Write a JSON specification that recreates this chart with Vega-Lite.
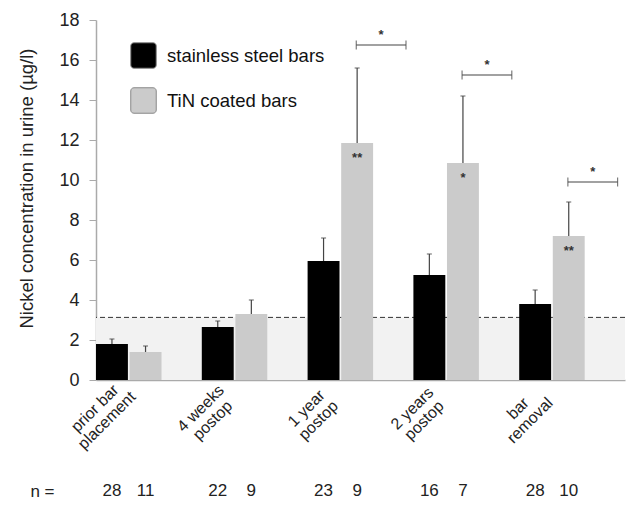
{
  "$schema": "https://vega.github.io/schema/vega-lite/v6.json",
  "padding": {"left": 17, "top": 11, "right": 5, "bottom": 5},
  "background": "white",
  "config": {
    "font": "Liberation Sans",
    "view": {"stroke": null},
    "concat": {"spacing": 29}
  },
  "datasets": {
    "bars": [
      {"group": "prior bar\nplacement", "series": "stainless steel bars", "mean": 1.8, "upper": 2.05, "n": "28"},
      {"group": "prior bar\nplacement", "series": "TiN coated bars", "mean": 1.4, "upper": 1.7, "n": "11"},
      {"group": "4 weeks\npostop", "series": "stainless steel bars", "mean": 2.65, "upper": 2.95, "n": "22"},
      {"group": "4 weeks\npostop", "series": "TiN coated bars", "mean": 3.3, "upper": 4.0, "n": "9"},
      {"group": "1 year\npostop", "series": "stainless steel bars", "mean": 5.95, "upper": 7.1, "n": "23"},
      {"group": "1 year\npostop", "series": "TiN coated bars", "mean": 11.85, "upper": 15.6, "n": "9"},
      {"group": "2 years\npostop", "series": "stainless steel bars", "mean": 5.25, "upper": 6.3, "n": "16"},
      {"group": "2 years\npostop", "series": "TiN coated bars", "mean": 10.85, "upper": 14.2, "n": "7"},
      {"group": "bar\nremoval", "series": "stainless steel bars", "mean": 3.8, "upper": 4.5, "n": "28"},
      {"group": "bar\nremoval", "series": "TiN coated bars", "mean": 7.2, "upper": 8.9, "n": "10"}
    ],
    "inbar": [
      {"group": "1 year\npostop", "series": "TiN coated bars", "mean": 11.85, "mark": "**"},
      {"group": "2 years\npostop", "series": "TiN coated bars", "mean": 10.85, "mark": "*"},
      {"group": "bar\nremoval", "series": "TiN coated bars", "mean": 7.2, "mark": "**"}
    ],
    "brackets": [
      {"group": "1 year\npostop", "level": 16.75, "mark": "*"},
      {"group": "2 years\npostop", "level": 15.25, "mark": "*"},
      {"group": "bar\nremoval", "level": 9.9, "mark": "*"}
    ],
    "limit": [{"threshold": 3.13}]
  },
  "vconcat": [
    {
      "width": 529,
      "height": 360,
      "layer": [
        {
          "data": {"name": "limit"},
          "mark": {"type": "rect", "fill": "#f2f2f2"},
          "encoding": {
            "y": {
              "field": "threshold", "type": "quantitative",
              "scale": {"domain": [0, 18], "nice": false},
              "axis": {
                "title": "Nickel concentration in urine (µg/l)",
                "titleFontSize": 18.5,
                "titleFontWeight": "normal",
                "titleColor": "#222222",
                "titlePadding": 22,
                "titleY": 168,
                "values": [0, 2, 4, 6, 8, 10, 12, 14, 16, 18],
                "tickCount": 12,
                "labelOverlap": false,
                "labelFlush": false,
                "grid": false,
                "labelFontSize": 18,
                "labelColor": "#222222",
                "labelPadding": 10,
                "tickSize": 7,
                "tickColor": "#aaaaaa",
                "domainColor": "#aaaaaa",
                "domainWidth": 1.5
              }
            },
            "y2": {"datum": 0}
          }
        },
        {
          "data": {"name": "limit"},
          "mark": {"type": "rule", "stroke": "#333333", "strokeWidth": 1, "strokeDash": [5, 3]},
          "encoding": {
            "y": {"field": "threshold", "type": "quantitative"}
          }
        },
        {
          "data": {"name": "bars"},
          "mark": {"type": "bar"},
          "encoding": {
            "x": {
              "field": "group", "type": "nominal", "sort": null,
              "scale": {"paddingInner": 0, "paddingOuter": 0},
              "axis": {
                "title": null,
                "labelExpr": "split(datum.label, '\\n')",
                "labelAngle": -45,
                "labelAlign": "center",
                "labelBaseline": "middle",
                "labelFontSize": 16,
                "labelColor": "#222222",
                "labelLineHeight": 17,
                "labelPadding": 28,
                "labelOffset": -54,
                "ticks": false,
                "domainColor": "#aaaaaa",
                "domainWidth": 1.5
              }
            },
            "xOffset": {
              "field": "series", "type": "nominal",
              "sort": ["stainless steel bars", "TiN coated bars"],
              "scale": {"paddingInner": 0.05, "paddingOuter": 0.6, "align": 0}
            },
            "y": {"field": "mean", "type": "quantitative"},
            "color": {
              "field": "series", "type": "nominal",
              "scale": {"domain": ["stainless steel bars", "TiN coated bars"], "range": ["#000000", "#cbcbcb"]},
              "legend": {
                "title": null,
                "orient": "none",
                "legendX": 34,
                "legendY": 22,
                "symbolType": "M -0.75 -1 L 0.75 -1 A 0.25 0.25 0 0 1 1 -0.75 L 1 0.75 A 0.25 0.25 0 0 1 0.75 1 L -0.75 1 A 0.25 0.25 0 0 1 -1 0.75 L -1 -0.75 A 0.25 0.25 0 0 1 -0.75 -1 Z",
                "symbolSize": 650,
                "symbolStrokeColor": "#888888",
                "symbolStrokeWidth": 1,
                "symbolOpacity": 1,
                "labelFontSize": 18.5,
                "labelColor": "#111111",
                "labelOffset": 10,
                "rowPadding": 14,
                "labelLimit": 300
              }
            }
          }
        },
        {
          "data": {"name": "bars"},
          "mark": {"type": "rule", "stroke": "#444444", "strokeWidth": 1.2},
          "encoding": {
            "x": {"field": "group", "type": "nominal", "sort": null},
            "xOffset": {"field": "series", "type": "nominal", "sort": ["stainless steel bars", "TiN coated bars"]},
            "y": {"field": "mean", "type": "quantitative"},
            "y2": {"field": "upper"}
          }
        },
        {
          "data": {"name": "bars"},
          "mark": {"type": "tick", "orient": "horizontal", "color": "#444444", "thickness": 1.2, "size": 5},
          "encoding": {
            "x": {"field": "group", "type": "nominal", "sort": null},
            "xOffset": {"field": "series", "type": "nominal", "sort": ["stainless steel bars", "TiN coated bars"]},
            "y": {"field": "upper", "type": "quantitative"}
          }
        },
        {
          "data": {"name": "inbar"},
          "mark": {"type": "text", "baseline": "top", "dy": 9, "fontSize": 13, "fontWeight": "bold", "color": "#333333"},
          "encoding": {
            "x": {"field": "group", "type": "nominal", "sort": null},
            "xOffset": {"field": "series", "type": "nominal", "sort": ["stainless steel bars", "TiN coated bars"]},
            "y": {"field": "mean", "type": "quantitative"},
            "text": {"field": "mark"}
          }
        },
        {
          "data": {"name": "brackets"},
          "mark": {"type": "rule", "stroke": "#444444", "strokeWidth": 1.2},
          "encoding": {
            "x": {"field": "group", "type": "nominal", "sort": null, "bandPosition": 0.46},
            "x2": {"field": "group", "bandPosition": 0.93},
            "y": {"field": "level", "type": "quantitative"}
          }
        },
        {
          "data": {"name": "brackets"},
          "mark": {"type": "tick", "orient": "vertical", "color": "#444444", "thickness": 1.2, "size": 9},
          "encoding": {
            "x": {"field": "group", "type": "nominal", "sort": null, "bandPosition": 0.46},
            "y": {"field": "level", "type": "quantitative"}
          }
        },
        {
          "data": {"name": "brackets"},
          "mark": {"type": "tick", "orient": "vertical", "color": "#444444", "thickness": 1.2, "size": 9},
          "encoding": {
            "x": {"field": "group", "type": "nominal", "sort": null, "bandPosition": 0.93},
            "y": {"field": "level", "type": "quantitative"}
          }
        },
        {
          "data": {"name": "brackets"},
          "mark": {"type": "text", "baseline": "bottom", "dy": -3, "fontSize": 13, "fontWeight": "bold", "color": "#333333"},
          "encoding": {
            "x": {"field": "group", "type": "nominal", "sort": null, "bandPosition": 0.695},
            "y": {"field": "level", "type": "quantitative"},
            "text": {"field": "mark"}
          }
        }
      ]
    },
    {
      "width": 529,
      "height": 20,
      "data": {"name": "bars"},
      "transform": [{"calculate": "'n ='", "as": "row"}],
      "mark": {"type": "text", "fontSize": 17, "color": "#222222"},
      "encoding": {
        "x": {
          "field": "group", "type": "nominal", "sort": null,
          "scale": {"paddingInner": 0, "paddingOuter": 0},
          "axis": null
        },
        "xOffset": {
          "field": "series", "type": "nominal",
          "sort": ["stainless steel bars", "TiN coated bars"],
          "scale": {"paddingInner": 0.05, "paddingOuter": 0.6, "align": 0}
        },
        "y": {
          "field": "row", "type": "nominal",
          "axis": {"title": null, "domain": false, "ticks": false, "labelFontSize": 17, "labelColor": "#222222", "labelPadding": 42}
        },
        "text": {"field": "n"}
      }
    }
  ]
}
